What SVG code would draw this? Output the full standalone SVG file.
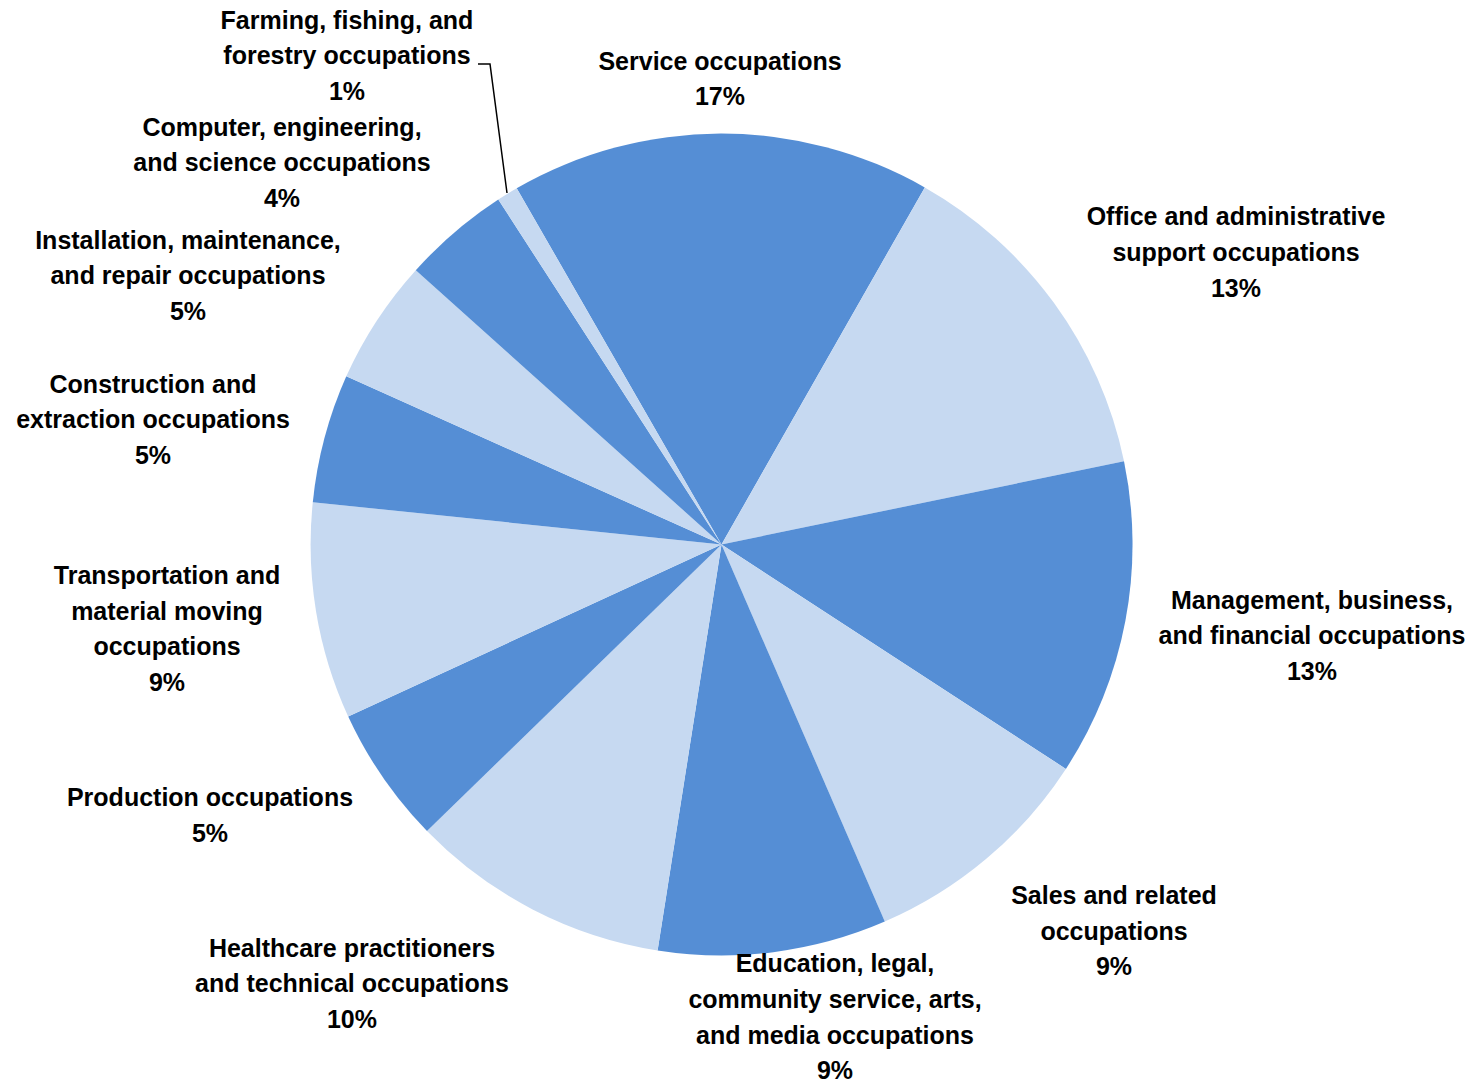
<svg xmlns="http://www.w3.org/2000/svg" width="1482" height="1085" viewBox="0 0 1482 1085">
<style>
.d{fill:#558ED5}
.l{fill:#C6D9F1}
text{font-family:"Liberation Sans",Arial,sans-serif;font-weight:bold;font-size:25px;fill:#000;text-anchor:middle}
.lead{fill:none;stroke:#000;stroke-width:1.5}
</style>
<rect width="1482" height="1085" fill="#fff"/>
<g id="pie">
<path id="s-service" class="d" d="M721.5,544.5 L516.7,188.2 A411,411 0 0 1 924.8,187.4 Z"/>
<path id="s-office" class="l" d="M721.5,544.5 L924.8,187.4 A411,411 0 0 1 1124.0,461.2 Z"/>
<path id="s-management" class="d" d="M721.5,544.5 L1124.0,461.2 A411,411 0 0 1 1065.9,768.9 Z"/>
<path id="s-sales" class="l" d="M721.5,544.5 L1065.9,768.9 A411,411 0 0 1 884.8,921.6 Z"/>
<path id="s-education" class="d" d="M721.5,544.5 L884.8,921.6 A411,411 0 0 1 657.6,950.4 Z"/>
<path id="s-healthcare" class="l" d="M721.5,544.5 L657.6,950.4 A411,411 0 0 1 427,831 Z"/>
<path id="s-production" class="d" d="M721.5,544.5 L427,831 A411,411 0 0 1 348.2,716.5 Z"/>
<path id="s-transportation" class="l" d="M721.5,544.5 L348.2,716.5 A411,411 0 0 1 312.8,502.2 Z"/>
<path id="s-construction" class="d" d="M721.5,544.5 L312.8,502.2 A411,411 0 0 1 346.3,376.3 Z"/>
<path id="s-installation" class="l" d="M721.5,544.5 L346.3,376.3 A411,411 0 0 1 415.8,270.3 Z"/>
<path id="s-computer" class="d" d="M721.5,544.5 L415.8,270.3 A411,411 0 0 1 498.3,199.5 Z"/>
<path id="s-farming" class="l" d="M721.5,544.5 L498.3,199.5 A411,411 0 0 1 516.7,188.2 Z"/>
</g>
<g id="connectors">
<path class="lead" d="M478,64 H490 L507,193"/>
</g>
<g id="label-farming"><text x="347" y="28.5">Farming, fishing, and</text><text x="347" y="64">forestry occupations</text><text x="347" y="99.5">1%</text></g>
<g id="label-service"><text x="720" y="69.5">Service occupations</text><text x="720" y="104.5">17%</text></g>
<g id="label-office"><text x="1236" y="224.5">Office and administrative</text><text x="1236" y="260.5">support occupations</text><text x="1236" y="296.5">13%</text></g>
<g id="label-management"><text x="1312" y="608.5">Management, business,</text><text x="1312" y="643.5">and financial occupations</text><text x="1312" y="679.5">13%</text></g>
<g id="label-sales"><text x="1114" y="903.5">Sales and related</text><text x="1114" y="939.5">occupations</text><text x="1114" y="974.5">9%</text></g>
<g id="label-education"><text x="835" y="971.5">Education, legal,</text><text x="835" y="1007.5">community service, arts,</text><text x="835" y="1043.5">and media occupations</text><text x="835" y="1078.5">9%</text></g>
<g id="label-healthcare"><text x="352" y="956.5">Healthcare practitioners</text><text x="352" y="991.5">and technical occupations</text><text x="352" y="1027.5">10%</text></g>
<g id="label-production"><text x="210" y="805.5">Production occupations</text><text x="210" y="841.5">5%</text></g>
<g id="label-transportation"><text x="167" y="583.5">Transportation and</text><text x="167" y="619.5">material moving</text><text x="167" y="654.5">occupations</text><text x="167" y="690.5">9%</text></g>
<g id="label-construction"><text x="153" y="392.5">Construction and</text><text x="153" y="427.5">extraction occupations</text><text x="153" y="463.5">5%</text></g>
<g id="label-installation"><text x="188" y="248.5">Installation, maintenance,</text><text x="188" y="283.5">and repair occupations</text><text x="188" y="319.5">5%</text></g>
<g id="label-computer"><text x="282" y="135.5">Computer, engineering,</text><text x="282" y="170.5">and science occupations</text><text x="282" y="206.5">4%</text></g>
</svg>
